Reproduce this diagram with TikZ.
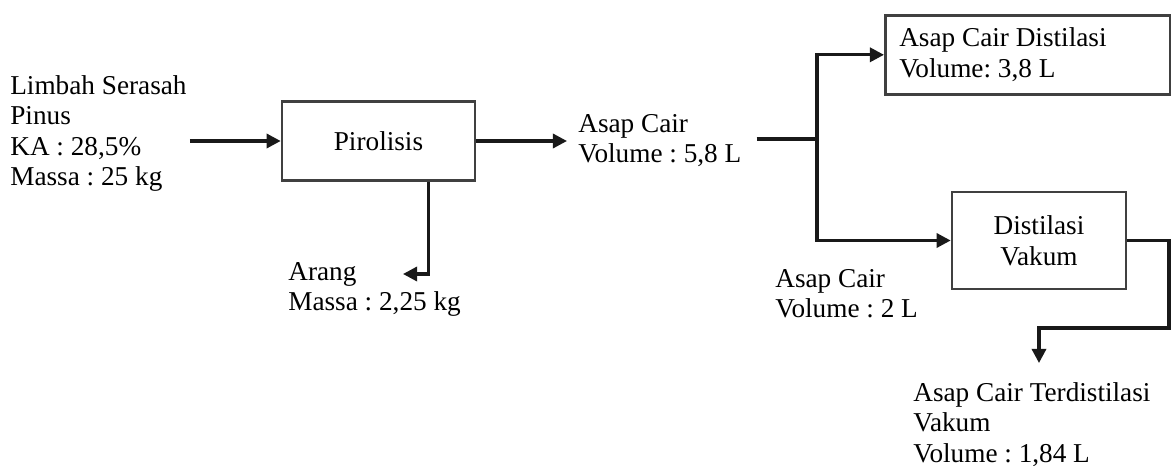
\documentclass[tikz,border=0pt]{standalone}
\usepackage{fontspec}
\setmainfont{Liberation Serif}
\usetikzlibrary{arrows.meta,calc}
\frenchspacing

\begin{document}
\begin{tikzpicture}[x=0.02cm,y=-0.02cm,>={Triangle[length=8pt,width=8pt]}]
	% Fix the page size
	\useasboundingbox (0,0) rectangle (1171,466);
	\tikzstyle{every node}=[font=\fontsize{15.5}{17.4}\selectfont]
	\tikzstyle{proc}=[draw=black!75,line width=1.5pt,inner sep=0pt]
	\tikzstyle{info}=[anchor=north west,align=left,inner sep=0pt]
	\tikzstyle{flow}=[->,line width=1.8pt,black!90]
	\tikzstyle{pipe}=[line width=1.8pt,black!90]

	% Process boxes
	\node[proc,minimum width=3.86cm,minimum height=1.58cm] (pirolisis) at (378.5,141) {Pirolisis};
	\node[proc,align=center,minimum width=3.48cm,minimum height=1.94cm] (vakum) at (1039,240.5) {Distilasi\\Vakum};
	\node[proc,anchor=north west,align=flush left,text width=5.14cm,inner xsep=0.28cm,minimum height=1.58cm] (distilat) at (884,14) {Asap Cair Distilasi\\Volume: 3,8 L};

	% Stream labels
	\node[info] (limbah) at (10,75) {Limbah Serasah\\Pinus\\KA : 28,5\%\\Massa : 25 kg};
	\node[info] (arang) at (288,262) {Arang\\Massa : 2,25 kg};
	\node[info] (asap1) at (578,114) {Asap Cair\\Volume : 5,8 L};
	\node[info] (asap2) at (775,269) {Asap Cair\\Volume : 2 L};
	\node[info] (hasil) at (913,382) {Asap Cair Terdistilasi\\Vakum\\Volume : 1,84 L};

	% Turning points of the lines
	\coordinate (arangin) at (403,274);
	\coordinate (split) at (817,139);
	\coordinate (turn) at (1169,328);
	\coordinate (drop) at (1039,363);

	% Connectors
	\draw[flow] ($(limbah.east |- pirolisis.west)+(3,0)$) -- (pirolisis.west);
	\draw[flow] ($(pirolisis.south)+(50,0)$) |- (arangin);
	\draw[flow] (pirolisis.east) -- ($(asap1.west |- pirolisis.east)+(-11,0)$);
	\draw[pipe] ($(asap1.east |- split)+(15,0)$) -- (split);
	\draw[flow] (split) |- (distilat.west);
	\draw[flow] (split) |- (vakum.west);
	\draw[flow] (vakum.east) -| (turn) -| (drop);
\end{tikzpicture}
\end{document}
